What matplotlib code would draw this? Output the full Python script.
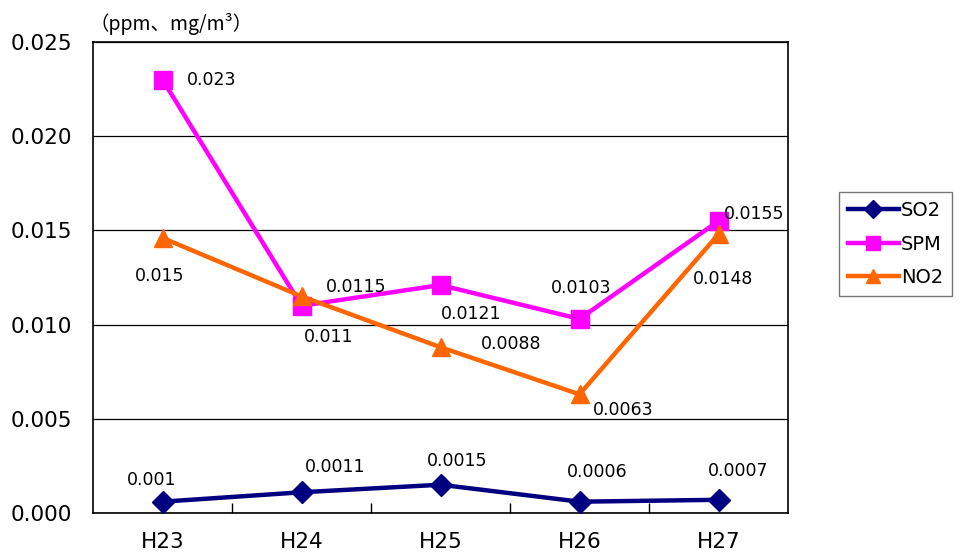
import numpy as np
import matplotlib.pyplot as plt

# Data
years = ["H23", "H24", "H25", "H26", "H27"]
so2 = [0.0006, 0.0011, 0.0015, 0.0006, 0.0007]
spm = [0.023, 0.011, 0.0121, 0.0103, 0.0155]
no2 = [0.0146, 0.0115, 0.0088, 0.0063, 0.0148]

# decimals shown in each point label
so2_dec = [3, 4, 4, 4, 4]
spm_dec = [3, 3, 4, 4, 4]
no2_dec = [3, 4, 4, 4, 4]

# label offsets in pixels (dx, dy)
so2_off = [(-11, 22), (34, 25), (17, 24), (18, 30), (20, 29)]
spm_off = [(49, 0), (27, -31), (31, -29), (2, 31), (36, 7)]
no2_off = [(-3, -38), (55, 9), (71, 3), (44, -16), (5, -45)]

fig = plt.figure(figsize=(9.65, 5.55), dpi=100)
ax = fig.add_axes([0.0964, 0.0757, 0.7202, 0.8486])

x = np.arange(len(years))
series = [
    ("SO2", so2, so2_dec, so2_off, "#000080", "D", 11),
    ("SPM", spm, spm_dec, spm_off, "#FF00FF", "s", 13),
    ("NO2", no2, no2_dec, no2_off, "#FF6600", "^", 13),
]
for name, vals, decs, offs, col, mk, ms in series:
    ax.plot(x, vals, color=col, lw=3.2, marker=mk, ms=ms, label=name, zorder=3)
    for xi, v, d, (dx, dy) in zip(x, vals, decs, offs):
        ax.annotate(f"{v:.{d}f}", (xi, v), xytext=(dx, dy),
                    textcoords="offset pixels", ha="center", va="center",
                    fontsize=12.5, zorder=4)

ax.set_xlim(-0.5, len(years) - 0.5)
ax.set_ylim(0, 0.025)
ax.set_yticks(np.arange(0, 0.0251, 0.005))
ax.yaxis.set_major_formatter(plt.FuncFormatter(lambda v, p: f"{v:.3f}"))
ax.set_xticks(x)
ax.set_xticklabels(years)
ax.set_xticks(np.arange(0.5, len(years) - 0.5, 1), minor=True)
ax.tick_params(axis="x", which="major", length=0, pad=14, labelsize=15.5)
ax.tick_params(axis="x", which="minor", direction="in", length=7, width=1)
ax.tick_params(axis="y", length=0, pad=15, labelsize=15.5)
ax.grid(axis="y", color="black", lw=0.9)
for s in ax.spines.values():
    s.set_color("black")
    s.set_linewidth(1.2)

fig.text(0.093, 0.957, "（ppm、mg/m³）", fontsize=14,
         family=["Noto Sans CJK JP", "DejaVu Sans"], ha="left", va="center")

leg = ax.legend(loc="center left", bbox_to_anchor=(1.06, 0.571), fontsize=14,
                frameon=True, fancybox=False, handlelength=2.6,
                handletextpad=0.1, labelspacing=0.75, borderpad=0.45,
                markerscale=0.8)
leg.get_frame().set_edgecolor("#555555")
leg.get_frame().set_linewidth(1)

fig.savefig("out.png", dpi=100)
